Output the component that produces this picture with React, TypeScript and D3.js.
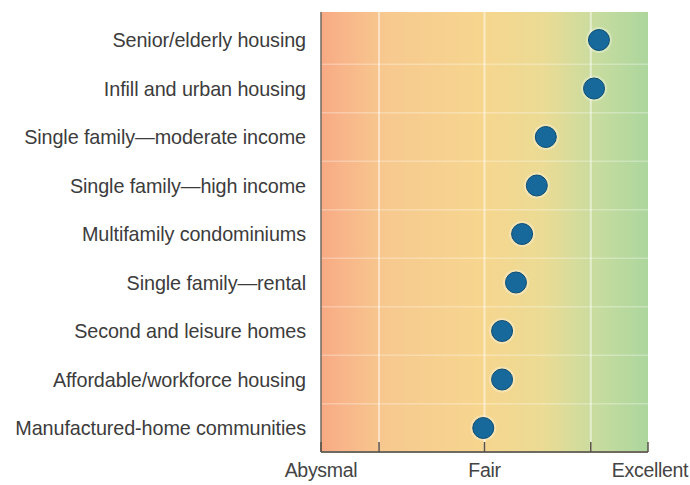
import React from "react";
import * as d3 from "d3";

// Housing sectors, top to bottom
const sectors = [
  "Senior/elderly housing",
  "Infill and urban housing",
  "Single family\u2014moderate income",
  "Single family\u2014high income",
  "Multifamily condominiums",
  "Single family\u2014rental",
  "Second and leisure homes",
  "Affordable/workforce housing",
  "Manufactured-home communities",
];

// Prospect ratings on a 1 (abysmal) to 9 (excellent) scale
const ratings = [7.8, 7.68, 6.5, 6.28, 5.92, 5.77, 5.43, 5.43, 4.97];

// Labelled axis ticks
const tickValues = [1, 5, 9];
const tickLabels = ["Abysmal", "Fair", "Excellent"];
// Unlabelled guide lines
const guideValues = [2.42, 7.6];

const W = 690;
const H = 485;
const left = 321;
const right = 648;
const top = 12;
const bottom = 452;

export default function App() {
  const x = d3.scaleLinear().domain([1, 9]).range([left, right]);
  const y = d3.scalePoint<string>().domain(sectors).range([40, 428]);
  const step = y.step();

  const gradStops = [
    { o: 0, c: "#f7a983" },
    { o: 0.06, c: "#f8b488" },
    { o: 0.2, c: "#f7c98f" },
    { o: 0.5, c: "#f6d68f" },
    { o: 0.68, c: "#ebdb94" },
    { o: 0.84, c: "#c8dc9f" },
    { o: 1, c: "#acd69d" },
  ];

  const allTicks = [...tickValues, ...guideValues].sort((a, b) => a - b);

  return (
    <svg
      width={W}
      height={H}
      style={{ position: "absolute", left: 0, top: 0, background: "#fff" }}
      fontFamily="'Liberation Sans', Arial, sans-serif"
    >
      <defs>
        <linearGradient id="bg" x1="0" x2="1" y1="0" y2="0">
          {gradStops.map((s) => (
            <stop key={s.o} offset={s.o} stopColor={s.c} />
          ))}
        </linearGradient>
      </defs>

      <rect x={left} y={top} width={right - left} height={bottom - top} fill="url(#bg)" />

      {/* row separators */}
      {sectors.slice(0, -1).map((s) => (
        <line
          key={"h" + s}
          x1={left}
          x2={right}
          y1={(y(s) as number) + step / 2}
          y2={(y(s) as number) + step / 2}
          stroke="#fff"
          strokeOpacity={0.3}
          strokeWidth={1.5}
        />
      ))}

      {/* vertical guides */}
      {[guideValues[0], 5, guideValues[1]].map((v) => (
        <line
          key={"g" + v}
          x1={x(v)}
          x2={x(v)}
          y1={top}
          y2={bottom}
          stroke="#fff"
          strokeOpacity={0.5}
          strokeWidth={2}
        />
      ))}

      {/* left axis line */}
      <line x1={left} x2={left} y1={top} y2={bottom} stroke="#6e6a60" strokeWidth={1.5} />

      {/* bottom axis */}
      <line x1={left} x2={right} y1={bottom} y2={bottom} stroke="#6e6a60" strokeWidth={2} />
      {allTicks.map((v) => (
        <line
          key={"t" + v}
          x1={x(v)}
          x2={x(v)}
          y1={bottom - 10}
          y2={bottom}
          stroke="#5a5248"
          strokeWidth={1.5}
        />
      ))}
      {tickValues.map((v, i) => (
        <text
          key={"l" + v}
          x={x(v) + (i === 2 ? 2 : 0)}
          y={477}
          textAnchor="middle"
          fontSize={19.5}
          letterSpacing={-0.3}
          fill="#444"
        >
          {tickLabels[i]}
        </text>
      ))}

      {/* category labels */}
      {sectors.map((s) => (
        <text
          key={"c" + s}
          x={306}
          y={(y(s) as number) + 7}
          textAnchor="end"
          fontSize={19.8}
          letterSpacing={-0.1}
          fill="#3c3c3c"
        >
          {s}
        </text>
      ))}

      {/* rating dots */}
      {sectors.map((s, i) => (
        <g key={"d" + s}>
          <circle cx={x(ratings[i])} cy={y(s)} r={13} fill="#fff" fillOpacity={0.3} />
          <circle
            cx={x(ratings[i])}
            cy={y(s)}
            r={10.5}
            fill="#18699b"
            stroke="#0e4d73"
            strokeWidth={1}
          />
        </g>
      ))}
    </svg>
  );
}
